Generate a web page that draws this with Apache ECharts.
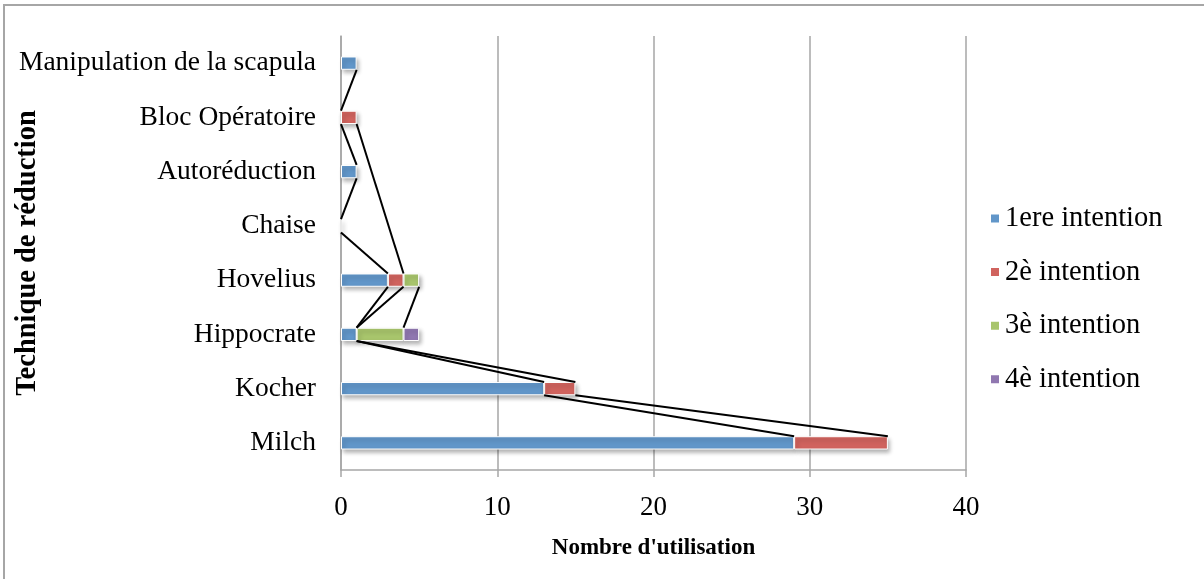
<!DOCTYPE html>
<html>
<head>
<meta charset="utf-8">
<script src="https://cdn.jsdelivr.net/npm/echarts@6/dist/echarts.min.js"></script>
<style>
html,body{margin:0;padding:0;background:#fff;}
#chart{width:1204px;height:579px;}
</style>
</head>
<body>
<div id="chart"></div>
<script>
// Categories (bottom to top)
const categories = ['Milch', 'Kocher', 'Hippocrate', 'Hovelius', 'Chaise', 'Autoréduction', 'Bloc Opératoire', 'Manipulation de la scapula'];
const seriesNames = ['1ere intention', '2è intention', '3è intention', '4è intention'];
// null = blank cell (no series line)
const intention1 = [29, 13, 1, 3, 0, 1, 0, 1];
const intention2 = [6, 2, 0, 1, null, null, 1, null];
const intention3 = [null, null, 3, 1, null, null, null, null];
const intention4 = [null, null, 1, null, null, null, null, null];
const xTicks = [0, 10, 20, 30, 40];

const allSeries = [intention1, intention2, intention3, intention4];
const colors = ['#6196c9', '#d0635e', '#a8c56c', '#9077b0'];
const BAR_RATIO = 0.245;

// Series lines: connect cumulative end of each series between consecutive non-blank categories
const cum = allSeries.map((_, s) => categories.map((_, i) => {
  let t = 0;
  for (let k = 0; k <= s; k++) t += (allSeries[k][i] || 0);
  return t;
}));
const segs = [];
allSeries.forEach((arr, s) => {
  for (let i = 0; i < arr.length; i++) {
    if (arr[i] === null) continue;
    let j = i + 1;
    while (j < arr.length && arr[j] === null) j++;
    if (j < arr.length) segs.push([cum[s][i], i, cum[s][j], j]);
  }
});

const font = '"Liberation Serif", "DejaVu Serif", serif';
const chart = echarts.init(document.getElementById('chart'));

const barSeries = seriesNames.map((name, s) => ({
  name: name,
  type: 'bar',
  stack: 'total',
  barWidth: (BAR_RATIO * 100) + '%',
  data: allSeries[s],
  itemStyle: {
    color: colors[s],
    borderColor: '#ffffff',
    borderWidth: 1,
    shadowBlur: 4,
    shadowOffsetX: 2,
    shadowOffsetY: 3,
    shadowColor: 'rgba(0,0,0,0.3)'
  },
  emphasis: { disabled: true },
  silent: true
}));

const lineSeries = {
  type: 'custom',
  name: 'serieslines',
  silent: true,
  z: 5,
  data: segs,
  encode: { x: [0, 2], y: [1, 3] },
  renderItem: function (params, api) {
    const p1 = api.coord([api.value(0), api.value(1)]);
    const p2 = api.coord([api.value(2), api.value(3)]);
    const bw = api.size([0, 1])[1] * BAR_RATIO;
    return {
      type: 'line',
      shape: { x1: p1[0], y1: p1[1] - bw / 2, x2: p2[0], y2: p2[1] + bw / 2 },
      style: { stroke: '#000000', lineWidth: 2 }
    };
  }
};

chart.setOption({
  animation: false,
  backgroundColor: '#ffffff',
  textStyle: { fontFamily: font },
  graphic: [{
    type: 'rect',
    shape: { x: 4, y: 5, width: 1400, height: 800 },
    style: { fill: 'none', stroke: '#a6a6a6', lineWidth: 2 },
    silent: true
  }],
  grid: { left: 341, right: 238, top: 36, bottom: 109, containLabel: false, outerBoundsMode: 'none' },
  legend: {
    data: seriesNames,
    orient: 'vertical',
    left: 984,
    top: 199,
    icon: 'rect',
    itemWidth: 10,
    itemHeight: 10,
    itemGap: 24.6,
    textStyle: { fontFamily: font, fontSize: 28.5, color: '#000', lineHeight: 28 },
    selectedMode: false
  },
  xAxis: {
    type: 'value',
    min: 0, max: 40, interval: 10,
    name: "Nombre d'utilisation",
    nameLocation: 'middle',
    nameGap: 67,
    nameMoveOverlap: false,
    nameTextStyle: { fontFamily: font, fontSize: 23, fontWeight: 'bold', color: '#000' },
    axisLine: { show: true, lineStyle: { color: '#a6a6a6', width: 1.5 } },
    axisTick: { show: true, length: 7, lineStyle: { color: '#a6a6a6', width: 1.5 } },
    axisLabel: { fontFamily: font, fontSize: 27, color: '#000', margin: 24,
      formatter: v => xTicks.includes(v) ? String(v) : '' },
    splitLine: { show: true, lineStyle: { color: '#a6a6a6', width: 1.5 } }
  },
  yAxis: {
    type: 'category',
    data: categories,
    name: 'Technique de réduction',
    nameLocation: 'middle',
    nameGap: 299,
    nameMoveOverlap: false,
    nameRotate: 90,
    nameTextStyle: { fontFamily: font, fontSize: 28.5, fontWeight: 'bold', color: '#000' },
    axisLine: { show: true, lineStyle: { color: '#a6a6a6', width: 1.5 } },
    axisTick: { show: false },
    axisLabel: { fontFamily: font, fontSize: 27.5, color: '#000', margin: 25 },
    splitLine: { show: false }
  },
  series: [...barSeries, lineSeries]
});
</script>
</body>
</html>
